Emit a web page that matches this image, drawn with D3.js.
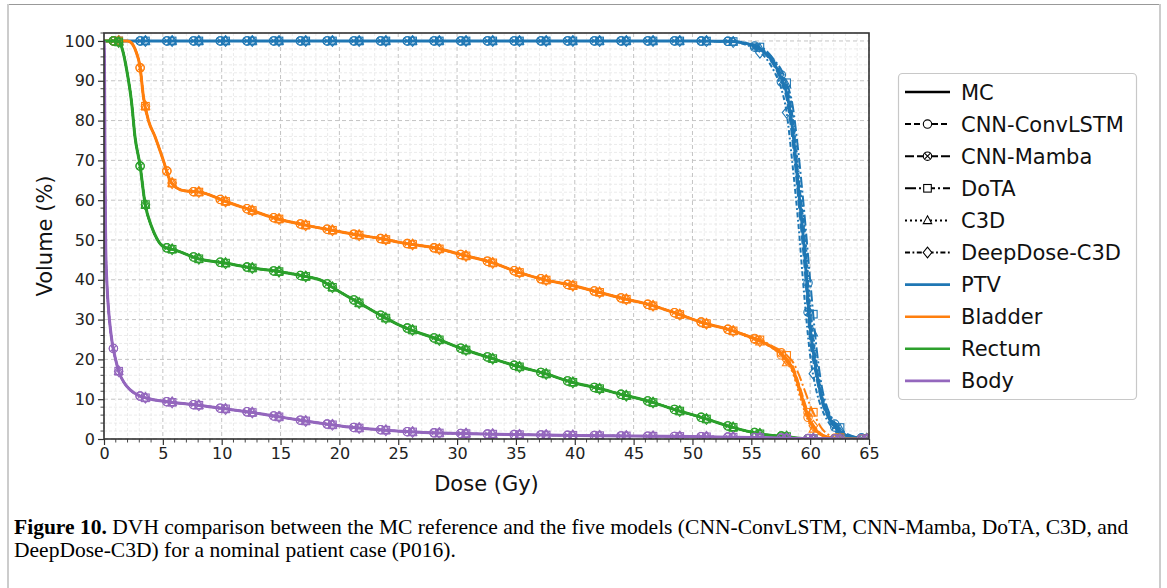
<!DOCTYPE html>
<html>
<head>
<meta charset="utf-8">
<script src="https://cdn.jsdelivr.net/npm/d3@7"></script>
<style>
  body { margin: 0; background: #fff; }
  svg { display: block; }
  .tick text { font-family: "DejaVu Sans", sans-serif; }
</style>
</head>
<body>
<svg id="chart" width="1167" height="588"></svg>
<script>
// structures and models
const structures = ["PTV", "Bladder", "Rectum", "Body"];
const structColors = ["#1f77b4", "#ff7f0e", "#2ca02c", "#9467bd"];
const models = ["CNN-ConvLSTM", "CNN-Mamba", "DoTA", "C3D", "DeepDose-C3D"];
const modelMarkers = ["circle", "xcircle", "square", "triangle", "diamond"];
const modelDashes = ["6,3", "9,3", "11,3,2,3", "2,3", "5,2.5,1.8,2.5"];

const xTicks = [0, 5, 10, 15, 20, 25, 30, 35, 40, 45, 50, 55, 60, 65];
const yTicks = [0, 10, 20, 30, 40, 50, 60, 70, 80, 90, 100];

// PTV (MC, shared by all models until the fall-off)
const ptvDose = [0, 10, 20, 30, 40, 50, 52, 53];
const ptvMC = [100, 100, 100, 100, 100, 100, 99.95, 99.9];
const ptvTailDose = [54, 55, 56, 57, 57.5, 58, 58.5, 59, 59.5, 60, 60.5, 61, 61.5, 62, 63, 64, 65];
const ptvTailMC       = [99.7, 99.0, 97.5, 94.0, 91.0, 87.0, 78.0, 63.0, 48.0, 28.0, 17.5, 10.0, 6.0, 3.5, 1.0, 0.3, 0.1];
const ptvTailConvLSTM = [99.7, 99.1, 97.8, 94.6, 91.8, 88.5, 81.0, 66.0, 52.0, 32.0, 19.5, 11.0, 6.8, 4.0, 1.1, 0.3, 0.1];
const ptvTailMamba    = [99.6, 98.9, 97.2, 93.4, 90.2, 85.5, 75.0, 60.0, 44.0, 25.0, 16.0, 9.2, 5.5, 3.2, 0.9, 0.3, 0.1];
const ptvTailDoTA     = [99.8, 99.2, 98.2, 95.0, 93.0, 89.5, 84.0, 72.0, 57.0, 40.0, 24.0, 13.0, 7.5, 4.5, 1.5, 0.4, 0.1];
const ptvTailC3D      = [99.7, 99.1, 97.9, 94.8, 92.2, 89.0, 82.5, 67.5, 54.0, 34.0, 20.5, 11.5, 7.0, 4.2, 1.2, 0.3, 0.1];
const ptvTailDeepDose = [99.5, 98.5, 96.5, 92.0, 88.5, 82.0, 69.0, 54.0, 36.0, 21.0, 12.5, 7.5, 4.5, 2.5, 0.7, 0.2, 0.0];

// Bladder
const bladderDose = [0, 2.0, 2.3, 2.7, 3.06, 3.35, 3.76, 4.33, 5.04, 5.6, 6.0, 6.5, 7.0, 8.2, 10.4, 12.4, 14.4, 17, 19.3, 21.5,
  23.8, 25.1, 28.3, 30.5, 32.8, 35.1, 37.3, 39.6, 41.9, 44.1, 46.4, 48.6, 50.9, 53.2];
const bladderMC = [100, 100, 99.6, 97.5, 93.5, 86, 80.2, 76, 70, 65, 63.5, 62.6, 62.3, 62.0, 59.6, 57.6, 55.6, 53.8, 52.5, 51.3,
  50.2, 49.4, 47.9, 46.2, 44.5, 42.0, 40.1, 38.7, 37.0, 35.3, 33.7, 31.6, 29.2, 27.4];
const bladderTailDose = [55, 56, 57, 57.5, 58, 58.5, 59, 59.5, 60, 60.5, 61, 61.5, 62, 65];
const bladderTailMC       = [25.5, 24.3, 22.6, 21.5, 19.8, 17.8, 13.5, 8.5, 4.3, 2.2, 1.0, 0.5, 0.2, 0];
const bladderTailConvLSTM = [25.4, 24.2, 22.5, 21.3, 19.5, 17.2, 12.8, 8.0, 4.0, 2.0, 0.9, 0.4, 0.1, 0];
const bladderTailMamba    = [25.6, 24.4, 22.8, 21.8, 20.2, 18.4, 14.2, 9.5, 5.0, 2.6, 1.2, 0.5, 0.2, 0];
const bladderTailDoTA     = [25.7, 24.6, 23.0, 22.2, 21.0, 19.5, 16.5, 12.5, 8.5, 5.2, 2.6, 1.2, 0.4, 0];
const bladderTailC3D      = [25.3, 24.1, 22.4, 21.1, 19.2, 16.8, 12.0, 7.2, 3.5, 1.7, 0.8, 0.3, 0.1, 0];
const bladderTailDeepDose = [25.4, 24.3, 22.6, 21.5, 19.9, 17.9, 13.4, 8.7, 4.5, 2.3, 1.0, 0.4, 0.1, 0];

// Rectum
const rectumDose = [0, 1.2, 1.5, 1.93, 2.35, 2.63, 3.06, 3.48, 4.05, 4.5, 5.04, 5.6, 6.0, 8.0, 10.3, 12.5, 15.0, 17.2, 18.5, 19.3,
  20.3, 21.5, 23.8, 25.1, 28.5, 30.5, 32.8, 35.2, 37.3, 39.6, 41.9, 44.1, 46.4, 48.6, 50.9, 53.2, 55.7, 58.0, 59.5, 62, 65];
const rectumMC = [100, 100, 98.5, 92.7, 84.4, 76, 68.8, 59.3, 53.3, 50.3, 48.3, 47.8, 47.5, 45.3, 44.2, 43.0, 42.0, 40.8, 39.8, 38.3,
  36.5, 34.5, 30.6, 28.6, 24.9, 22.6, 20.4, 18.2, 16.6, 14.4, 12.8, 11.1, 9.4, 7.3, 5.3, 3.1, 1.3, 0.6, 0.1, 0, 0];

// Body
const bodyDose = [0, 0.05, 0.1, 0.15, 0.25, 0.4, 0.55, 0.68, 1.0, 1.27, 1.7, 2.2, 3.06, 3.57, 5.5, 8.0, 10.0, 12.5, 15.0, 17.0,
  19.3, 21.5, 24.0, 26.0, 28.5, 30.0, 35.0, 40.0, 45.0, 50.0, 55.0, 58.0, 61.0, 65.0];
const bodyMC = [100, 90, 62, 48, 39, 32, 27.5, 24.5, 19.8, 16.8, 14.2, 12.4, 10.8, 10.3, 9.3, 8.5, 7.7, 6.7, 5.5, 4.6,
  3.6, 2.8, 2.2, 1.8, 1.5, 1.4, 1.1, 0.9, 0.75, 0.6, 0.4, 0.2, 0.05, 0];

const legendLabels = ["MC", "CNN-ConvLSTM", "CNN-Mamba", "DoTA", "C3D", "DeepDose-C3D", "PTV", "Bladder", "Rectum", "Body"];

// ---- build curves ----
const zip = (a, b) => a.map((d, i) => [d, b[i]]);
const ptvTails = [ptvTailMC, ptvTailConvLSTM, ptvTailMamba, ptvTailDoTA, ptvTailC3D, ptvTailDeepDose];
const bladderTails = [bladderTailMC, bladderTailConvLSTM, bladderTailMamba, bladderTailDoTA, bladderTailC3D, bladderTailDeepDose];

// curves[s][m] with m = 0 for MC, 1..5 models
const curves = [
  ptvTails.map(t => zip(ptvDose, ptvMC).concat(zip(ptvTailDose, t))),
  bladderTails.map(t => zip(bladderDose, bladderMC).concat(zip(bladderTailDose, t))),
  d3.range(6).map(() => zip(rectumDose, rectumMC)),
  d3.range(6).map(() => zip(bodyDose, bodyMC))
];

const svg = d3.select("#chart");
const W = 1167, H = 588;

// figure frame
svg.append("line").attr("x1", 7).attr("x2", 1160).attr("y1", 4.5).attr("y2", 4.5).attr("stroke", "#999").attr("stroke-width", 1);
svg.append("line").attr("x1", 8).attr("x2", 8).attr("y1", 4).attr("y2", H).attr("stroke", "#ccc").attr("stroke-width", 2);
svg.append("line").attr("x1", 1160).attr("x2", 1160).attr("y1", 4).attr("y2", H).attr("stroke", "#ccc").attr("stroke-width", 2);

const x = d3.scaleLinear().domain([0, 65]).range([104, 869]);
const y = d3.scaleLinear().domain([0, 102]).range([439, 33]);
const [x0, x1] = x.range();
const [y0, y1] = y.range();

// grids
const xMinor = d3.range(0, 66, 1).filter(v => v % 5 !== 0);
const yMinor = d3.range(0, 103, 2).filter(v => v % 10 !== 0);
const grid = svg.append("g");
grid.selectAll(".mgx").data(xMinor).join("line")
  .attr("x1", d => x(d)).attr("x2", d => x(d)).attr("y1", y1).attr("y2", y0)
  .attr("stroke", "#e6e6e6").attr("stroke-width", 0.8).attr("stroke-dasharray", "3,2");
grid.selectAll(".mgy").data(yMinor).join("line")
  .attr("y1", d => y(d)).attr("y2", d => y(d)).attr("x1", x0).attr("x2", x1)
  .attr("stroke", "#e6e6e6").attr("stroke-width", 0.8).attr("stroke-dasharray", "3,2");
grid.selectAll(".gx").data(xTicks).join("line")
  .attr("x1", d => x(d)).attr("x2", d => x(d)).attr("y1", y1).attr("y2", y0)
  .attr("stroke", "#c4c4c4").attr("stroke-width", 1).attr("stroke-dasharray", "4,3");
grid.selectAll(".gy").data(yTicks).join("line")
  .attr("y1", d => y(d)).attr("y2", d => y(d)).attr("x1", x0).attr("x2", x1)
  .attr("stroke", "#c4c4c4").attr("stroke-width", 1).attr("stroke-dasharray", "4,3");

// clip
svg.append("clipPath").attr("id", "plotclip").append("rect")
  .attr("x", x0).attr("y", y1).attr("width", x1 - x0).attr("height", y0 - y1);

const line = d3.line().x(d => x(d[0])).y(d => y(d[1])).curve(d3.curveMonotoneX);

function valueAt(pts, d) {
  const i = d3.bisector(p => p[0]).right(pts, d);
  if (i <= 0) return pts[0][1];
  if (i >= pts.length) return pts[pts.length - 1][1];
  const a = pts[i - 1], b = pts[i];
  return a[1] + (b[1] - a[1]) * (d - a[0]) / (b[0] - a[0]);
}

function drawMarker(g, type, cx, cy, color) {
  const s = g.append("g").attr("transform", `translate(${cx},${cy})`)
    .attr("fill", "none").attr("stroke", color).attr("stroke-width", 1.1);
  if (type === "circle") s.append("circle").attr("r", 4.2);
  if (type === "xcircle") {
    s.append("circle").attr("r", 4.2);
    s.append("path").attr("d", "M-3,-3L3,3M-3,3L3,-3");
  }
  if (type === "square") s.append("rect").attr("x", -3.8).attr("y", -3.8).attr("width", 7.6).attr("height", 7.6);
  if (type === "triangle") s.append("path").attr("d", "M0,-4.6L4.2,3.2L-4.2,3.2Z");
  if (type === "diamond") s.append("path").attr("d", "M0,-5.4L4.3,0L0,5.4L-4.3,0Z");
  return s;
}

// marker positions along the dose axis (pairs, as in the figure)
const markerBase = d3.range(0.8, 65.2, 2.27);
const markerOffset = [0, 0, 0.45, 0.45, 0.45];

const plot = svg.append("g").attr("clip-path", "url(#plotclip)");
structures.forEach((s, si) => {
  const col = structColors[si];
  const g = plot.append("g");
  g.append("path").datum(curves[si][0]).attr("d", line)
    .attr("fill", "none").attr("stroke", col).attr("stroke-width", 3);
  models.forEach((m, mi) => {
    const pts = curves[si][mi + 1];
    g.append("path").datum(pts).attr("d", line)
      .attr("fill", "none").attr("stroke", col).attr("stroke-width", 2)
      .attr("stroke-dasharray", modelDashes[mi]);
    markerBase.forEach(b => {
      const d = b + markerOffset[mi];
      if (d > 65.2) return;
      drawMarker(g, modelMarkers[mi], x(d), y(valueAt(pts, d)), col);
    });
  });
});

// axes
const xAxis = svg.append("g").attr("transform", `translate(0,${y0})`)
  .call(d3.axisBottom(x).tickValues(xTicks).tickSize(6).tickPadding(3).tickFormat(d3.format("d")));
const yAxis = svg.append("g").attr("transform", `translate(${x0},0)`)
  .call(d3.axisLeft(y).tickValues(yTicks).tickSize(6).tickPadding(3).tickFormat(d3.format("d")));
[xAxis, yAxis].forEach(a => {
  a.select(".domain").remove();
  a.selectAll(".tick text").attr("font-size", 16).attr("fill", "#222");
  a.selectAll(".tick line").attr("stroke", "#333").attr("stroke-width", 1.2);
});
svg.append("g").selectAll("line").data(xMinor).join("line")
  .attr("x1", d => x(d)).attr("x2", d => x(d)).attr("y1", y0).attr("y2", y0 + 3.5)
  .attr("stroke", "#333").attr("stroke-width", 0.9);
svg.append("g").selectAll("line").data(yMinor).join("line")
  .attr("y1", d => y(d)).attr("y2", d => y(d)).attr("x1", x0).attr("x2", x0 - 3.5)
  .attr("stroke", "#333").attr("stroke-width", 0.9);

// spines
svg.append("rect").attr("x", x0).attr("y", y1).attr("width", x1 - x0).attr("height", y0 - y1)
  .attr("fill", "none").attr("stroke", "#333").attr("stroke-width", 1.6);

// axis labels
svg.append("text").attr("x", (x0 + x1) / 2).attr("y", 491).attr("text-anchor", "middle")
  .attr("font-family", "DejaVu Sans").attr("font-size", 21).attr("fill", "#111").text("Dose (Gy)");
svg.append("text").attr("transform", `translate(52,${(y0 + y1) / 2}) rotate(-90)`).attr("text-anchor", "middle")
  .attr("font-family", "DejaVu Sans").attr("font-size", 21).attr("fill", "#111").text("Volume (%)");

// legend
const lg = svg.append("g");
lg.append("rect").attr("x", 898.5).attr("y", 73.5).attr("width", 238).attr("height", 326).attr("rx", 4)
  .attr("fill", "#fff").attr("stroke", "#c8c8c8").attr("stroke-width", 1.2);
legendLabels.forEach((lab, i) => {
  const cy = 92 + i * 32.1;
  const row = lg.append("g");
  let color = "#000", dash = null, lw = 2.6, marker = null;
  if (i >= 1 && i <= 5) { dash = modelDashes[i - 1]; lw = 2; marker = modelMarkers[i - 1]; }
  if (i >= 6) color = structColors[i - 6];
  row.append("line").attr("x1", 905).attr("x2", 950).attr("y1", cy).attr("y2", cy)
    .attr("stroke", color).attr("stroke-width", lw).attr("stroke-dasharray", dash);
  if (marker) drawMarker(row, marker, 927.5, cy, "#000").attr("fill", "#fff");
  row.append("text").attr("x", 961).attr("y", cy).attr("dy", "0.36em")
    .attr("font-family", "DejaVu Sans").attr("font-size", 21).attr("fill", "#111").text(lab);
});

// caption
const cap1 = svg.append("text").attr("x", 14).attr("y", 534)
  .attr("font-family", "Liberation Serif").attr("font-size", 20.5).attr("fill", "#000");
cap1.append("tspan").attr("font-weight", "bold").text("Figure 10.");
cap1.append("tspan").text(" DVH comparison between the MC reference and the five models (CNN-ConvLSTM, CNN-Mamba, DoTA, C3D, and");
const cap2 = svg.append("text").attr("x", 14).attr("y", 557)
  .attr("font-family", "Liberation Serif").attr("font-size", 20.5).attr("fill", "#000")
  .text("DeepDose-C3D) for a nominal patient case (P016).");
const k = (1129 - 14) / cap1.node().getComputedTextLength();
cap1.attr("transform", `translate(14,0) scale(${k},1) translate(-14,0)`);
cap2.attr("transform", `translate(14,0) scale(${k},1) translate(-14,0)`);
</script>
</body>
</html>
